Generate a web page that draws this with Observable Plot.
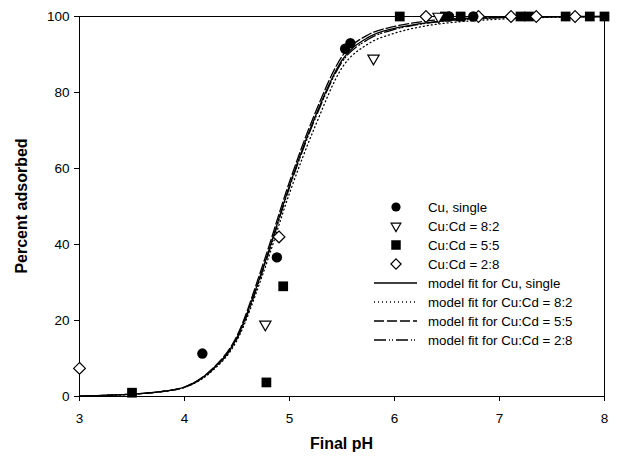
<!DOCTYPE html>
<html><head><meta charset="utf-8">
<script src="https://cdn.jsdelivr.net/npm/d3@7"></script>
<script src="https://cdn.jsdelivr.net/npm/@observablehq/plot@0.6"></script>
<style>
body{margin:0;background:#fff;font-family:"Liberation Sans",Arial,sans-serif;}
#wrap{position:relative;width:618px;height:461px;}
.xlabel{position:absolute;left:79px;width:525px;top:434px;text-align:center;font-weight:bold;font-size:16px;line-height:20px;}
.ylabel{position:absolute;left:22px;top:206px;transform:translate(-50%,-50%) rotate(-90deg);font-weight:bold;font-size:16px;white-space:nowrap;line-height:20px;}
#legend{position:absolute;left:360px;top:195px;}
</style></head><body><div id="wrap"></div>
<script>
// ---- data ----
const xTicks = [3, 4, 5, 6, 7, 8];
const yTicks = [0, 20, 40, 60, 80, 100];
const xLabel = "Final pH";
const yLabel = "Percent adsorbed";

const cuSinglePH  = [4.17, 4.88, 5.53, 5.58, 6.52, 6.75];
const cuSinglePct = [11.3, 36.6, 91.5, 93.0, 100, 100];

const cu82PH  = [4.77, 5.80, 6.42];
const cu82Pct = [19.0, 89.0, 100];

const cu55PH  = [3.50, 4.78, 4.94, 6.05, 6.48, 6.63, 7.20, 7.28, 7.63, 7.86, 8.00];
const cu55Pct = [1.0, 3.7, 29.0, 100, 100, 100, 100, 100, 100, 100, 100];

const cu28PH  = [3.00, 4.90, 6.30, 6.80, 7.11, 7.35, 7.72];
const cu28Pct = [7.4, 42.0, 100, 100, 100, 100, 100];

// model-fit curves, read at pH 3.00, 3.25, ... 8.00
const fitPH = [3.00,3.25,3.50,3.75,4.00,4.25,4.50,4.75,5.00,5.25,5.50,5.75,6.00,6.25,6.50,6.75,7.00,7.25,7.50,7.75,8.00];
const fitCuSingle = [0.1,0.3,0.6,1.2,2.5,6.8,15.5,34,55.5,74,88.5,94.5,96.9,98.1,99.0,99.5,99.7,99.85,99.9,99.95,100];
const fitCu82     = [0.1,0.3,0.6,1.2,2.4,6.4,14.8,32.5,53.5,71.5,86.5,92.8,95.6,97.3,98.3,98.9,99.3,99.6,99.8,99.9,100];
const fitCu55     = [0.1,0.3,0.6,1.2,2.5,6.9,16.0,35,56.5,75,89.5,95.2,97.4,98.6,99.3,99.6,99.8,99.9,99.95,100,100];
const fitCu28     = [0.1,0.3,0.6,1.2,2.4,6.6,15.2,33.5,55,73.5,88,94,96.6,98,98.9,99.4,99.7,99.85,99.9,99.95,100];

const seriesNames = ["Cu, single", "Cu:Cd = 8:2", "Cu:Cd = 5:5", "Cu:Cd = 2:8"];
const fitNames = ["model fit for Cu, single", "model fit for Cu:Cd = 8:2", "model fit for Cu:Cd = 5:5", "model fit for Cu:Cd = 2:8"];

// ---- build tables ----
const pts = (xs, ys) => xs.map((x, i) => ({x, y: ys[i]}));
const fits = [fitCuSingle, fitCu82, fitCu55, fitCu28].map(v => pts(fitPH, v));
const dashes = [null, "1,3", "10,3", "12,3,1,2,1,3"];

const triDown = {draw(ctx, size) {
  const y = Math.sqrt(size / (Math.sqrt(3) * 3));
  ctx.moveTo(0, 2 * y);
  ctx.lineTo(-Math.sqrt(3) * y, -y);
  ctx.lineTo(Math.sqrt(3) * y, -y);
  ctx.closePath();
}};

const font = '"Liberation Sans", Arial, sans-serif';

const chart = Plot.plot({
  width: 618, height: 461,
  marginLeft: 79, marginRight: 14, marginTop: 16, marginBottom: 65,
  x: {domain: [3, 8]},
  y: {domain: [0, 100]},
  style: {fontFamily: font, fontSize: "13px", color: "black", background: "white", overflow: "visible"},
  marks: [
    ...fits.map((d, i) => Plot.line(d, {x: "x", y: "y", curve: "monotone-x", stroke: "black", strokeWidth: 1.3, strokeDasharray: dashes[i]})),
    Plot.frame({stroke: "black", strokeWidth: 1}),
    Plot.axisX({ticks: xTicks, tickFormat: d3.format("d"), tickSize: 5, tickPadding: 12, label: null, fontSize: 13.5}),
    Plot.axisY({ticks: yTicks, tickFormat: d3.format("d"), tickSize: 5, tickPadding: 5, label: null, fontSize: 13.5}),
    Plot.dot(pts(cu55PH, cu55Pct), {x: "x", y: "y", symbol: "square", r: 5.5, fill: "black", stroke: "none"}),
    Plot.dot(pts(cu28PH, cu28Pct), {x: "x", y: "y", symbol: "diamond2", r: 5.3, fill: "white", stroke: "black", strokeWidth: 1.2}),
    Plot.dot(pts(cu82PH, cu82Pct), {x: "x", y: "y", symbol: triDown, r: 4.2, fill: "white", stroke: "black", strokeWidth: 1.2}),
    Plot.dot(pts(cuSinglePH, cuSinglePct), {x: "x", y: "y", symbol: "circle", r: 5.2, fill: "black", stroke: "none"})
  ]
});

const wrap = document.getElementById("wrap");
wrap.appendChild(chart);

const xl = document.createElement("div"); xl.className = "xlabel"; xl.textContent = xLabel; wrap.appendChild(xl);
const yl = document.createElement("div"); yl.className = "ylabel"; yl.textContent = yLabel; wrap.appendChild(yl);

// ---- legend ----
const lg = d3.select(wrap).append("svg").attr("id", "legend").attr("width", 240).attr("height", 160)
  .style("font-family", font).style("font-size", "13.3px");
const rowY = i => 12 + 19 * i;
const symDefs = [
  {sym: d3.symbolCircle, size: Math.PI * 4.6 * 4.6, fill: "black", stroke: "none"},
  {sym: triDown, size: Math.PI * 3.6 * 3.6, fill: "white", stroke: "black"},
  {sym: d3.symbolSquare, size: 9.5 * 9.5, fill: "black", stroke: "none"},
  {sym: d3.symbolDiamond2, size: Math.PI * 4.6 * 4.6, fill: "white", stroke: "black"}
];
seriesNames.forEach((name, i) => {
  const s = symDefs[i];
  lg.append("path").attr("d", d3.symbol(s.sym, s.size)()).attr("transform", `translate(36,${rowY(i)})`)
    .attr("fill", s.fill).attr("stroke", s.stroke).attr("stroke-width", 1.2);
  lg.append("text").attr("x", 68).attr("y", rowY(i)).attr("dy", "0.35em").text(name);
});
fitNames.forEach((name, j) => {
  const i = j + 4;
  lg.append("line").attr("x1", 14).attr("x2", 57).attr("y1", rowY(i)).attr("y2", rowY(i))
    .attr("stroke", "black").attr("stroke-width", 1.3).attr("stroke-dasharray", dashes[j]);
  lg.append("text").attr("x", 68).attr("y", rowY(i)).attr("dy", "0.35em").text(name);
});
</script>
</body></html>
